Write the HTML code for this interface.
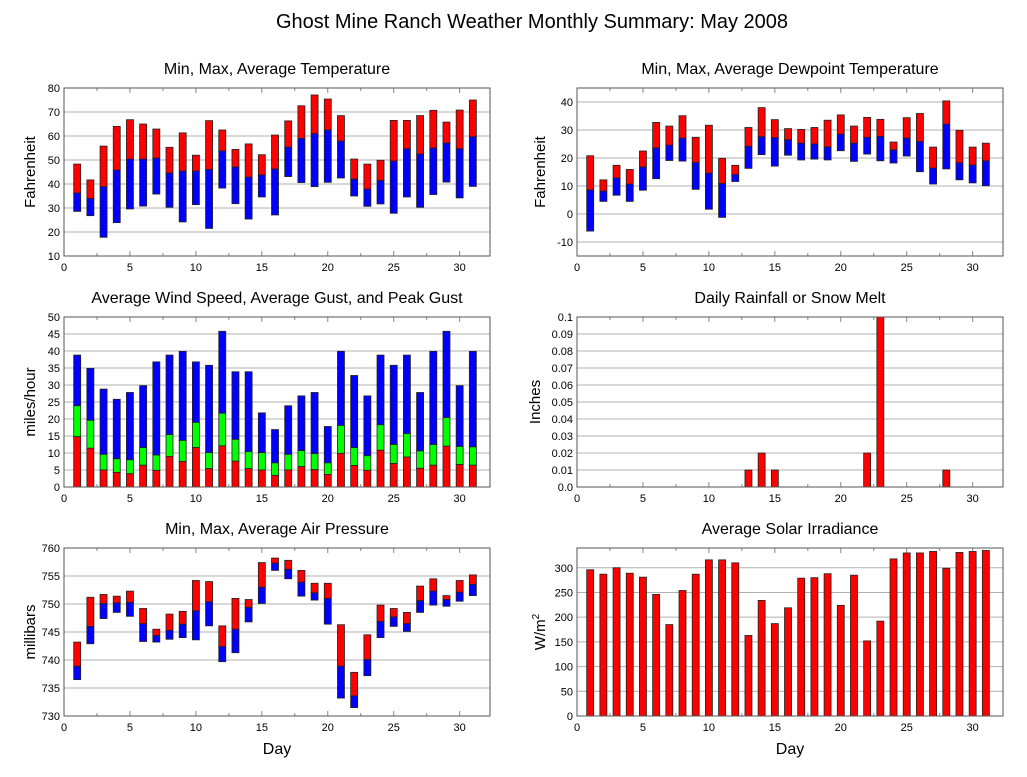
<!DOCTYPE html>
<html><head><meta charset="utf-8">
<style>
body{margin:0;background:#fff;font-family:"Liberation Sans",sans-serif;}
svg text{font-family:"Liberation Sans",sans-serif;fill:#000;}
</style></head>
<body>
<svg id="c" width="1027" height="772" xmlns="http://www.w3.org/2000/svg">
<text x="532" y="28" font-size="20" text-anchor="middle">Ghost Mine Ranch Weather Monthly Summary: May 2008</text>
</svg>
<script>
const days = [1,2,3,4,5,6,7,8,9,10,11,12,13,14,15,16,17,18,19,20,21,22,23,24,25,26,27,28,29,30,31];
const tempMax = [48.3,41.7,55.8,64,66.8,65,62.9,55.3,61.3,52,66.4,62.5,54.4,56.7,52.2,60.4,66.3,72.6,77.1,75.4,68.5,50.4,48.3,49.9,66.5,66.5,68.5,70.7,65.8,70.8,75];
const tempAvg = [36.3,34,38.9,45.8,50.4,50.4,50.8,44.6,45.4,45.4,46.1,53.8,47.1,42.9,43.8,46.3,55.4,59,61,62.5,57.9,42.1,37.9,41.5,49.6,54.7,52.5,55,57.1,54.7,59.7];
const tempMin = [28.6,26.8,17.8,23.9,29.6,30.8,35.8,30.3,24.2,31.4,21.5,38.3,31.8,25.4,34.6,27.1,43.1,40.6,38.9,40.7,42.5,35,30.7,31.7,27.8,34.6,30.3,35.6,40.8,34.2,39];
const dewMax = [20.8,12.2,17.4,15.9,22.5,32.7,31.4,35.1,27.4,31.7,19.9,17.4,30.9,38,33.7,30.5,30.2,30.9,33.5,35.4,31.4,34.5,33.8,25.7,34.4,35.9,23.9,40.4,29.9,23.9,25.3];
const dewAvg = [8.6,8.2,12.9,10.7,16.8,23.6,24.6,27.1,18.4,14.6,10.9,14.1,24.2,27.6,27.3,26.5,25.3,25,24,28.5,25.3,27.4,27.7,22.9,27.1,25.9,16.4,32.1,18.3,17.5,19];
const dewMin = [-6.1,4.5,6.7,4.5,8.5,12.6,19.1,18.9,8.8,1.7,-1.2,11.6,16.3,21.2,17.1,21,19.3,19.6,19.3,22.6,18.8,21.4,19,18.2,20.7,15.1,10.7,16.1,12.2,11.1,10.1];
const windPeak = [38.8,34.9,28.8,25.8,27.8,29.8,36.8,38.8,39.9,36.8,35.8,45.8,33.9,33.9,21.8,16.9,23.9,26.8,27.8,17.8,39.9,32.8,26.8,38.8,35.8,38.8,27.8,39.9,45.8,29.8,39.9];
const windGust = [23.9,19.6,9.6,8.3,8,11.6,9.4,15.4,13.7,19,10.1,21.7,14,10.4,10.1,7.1,9.6,10.7,9.8,7.1,18.1,11.6,9.2,18.3,12.5,15.7,10.6,12.5,20.4,11.9,11.8];
const windAvg = [14.8,11.4,5,4.3,3.9,6.4,4.9,9,7.5,11.6,5.4,12.1,7.6,5.4,5,3.4,5,6,5.1,3.7,9.9,6.3,4.9,10.8,6.9,8.8,5.5,6.4,12,6.6,6.4];
const rain = [0,0,0,0,0,0,0,0,0,0,0,0,0.01,0.02,0.01,0,0,0,0,0,0,0.02,0.1,0,0,0,0,0.01,0,0,0];
const presMax = [743.2,751.2,751.7,751.4,752.3,749.2,745.5,748.2,748.7,754.2,754,746.1,751,750.8,757.4,758.2,757.8,756,753.7,753.7,746.3,737.8,744.5,749.8,749.2,748.5,753.2,754.5,751.5,754.2,755.2];
const presAvg = [738.9,746,750.1,750.2,750.3,746.5,744.4,745.3,746.4,748.8,750.4,742.4,745.5,749.4,753,757.3,756.2,753.9,752,751,738.9,733.6,740.1,746.9,747.7,746.5,750.6,752.3,750.8,752.1,753.5];
const presMin = [736.5,742.9,747.4,748.5,747.8,743.3,743.2,743.7,744,743.6,746.1,739.7,741.3,746.8,750.1,756,754.5,751.4,750.7,746.4,733.2,731.5,737.2,744,746,745.1,748.5,749.8,749.6,750.5,751.5];
const solar = [296,287,300,289,281,246,185,254,287,316,316,310,163,234,187,219,279,280,288,224,285,152,192,318,330,330,333,299,331,333,335];
const xTicks = [0,5,10,15,20,25,30];
const tempTicks = [10,20,30,40,50,60,70,80];
const dewTicks = [-10,0,10,20,30,40];
const windTicks = [0,5,10,15,20,25,30,35,40,45,50];
const rainTicks = [0,0.01,0.02,0.03,0.04,0.05,0.06,0.07,0.08,0.09,0.1];
const rainTickLabels = ["0.0","0.01","0.02","0.03","0.04","0.05","0.06","0.07","0.08","0.09","0.1"];
const presTicks = [730,735,740,745,750,755,760];
const solarTicks = [0,50,100,150,200,250,300];

const svg = document.getElementById('c');
const NS = 'http://www.w3.org/2000/svg';
function mk(tag, attrs, parent){
  const e = document.createElementNS(NS, tag);
  for (const k in attrs) e.setAttribute(k, attrs[k]);
  (parent||svg).appendChild(e);
  return e;
}
const XMAX = 32.3;
function panel(o){
  const g = mk('g', {});
  
  
  const W = o.x1 - o.x0, H = o.y1 - o.y0;
  const xs = d => o.x0 + d / XMAX * W;
  const ys = v => o.y1 - (v - o.ymin) / (o.ymax - o.ymin) * H;
  // grid
  o.yticks.forEach((t, i) => {
    const y = ys(t);
    if (y > o.y0 + 0.5 && y < o.y1 - 0.5) {
      const l = mk('line', {x1:o.x0, x2:o.x1, y1:y, y2:y, stroke:'#b0b0b0', 'stroke-width':1}, g);
      
      
    }
    const tx = mk('text', {x:o.x0-4, y:y+4, 'font-size':11, 'text-anchor':'end'}, g);
    
    
    tx.textContent = o.ylabels ? o.ylabels[i] : String(t);
  });
  // x ticks
  for (let d = 2.5; d < XMAX; d += 2.5) {
    const x = xs(d);
    const len = (d % 5 === 0) ? 5 : 3;
    mk('line', {x1:x, x2:x, y1:o.y0, y2:o.y0+len, stroke:'#888'}, g);
    mk('line', {x1:x, x2:x, y1:o.y1, y2:o.y1-len, stroke:'#888'}, g);
  }
  xTicks.forEach(t => {
    const tx = mk('text', {x:xs(t), y:o.y1+15, 'font-size':11, 'text-anchor':'middle'}, g);
    
    
    tx.textContent = String(t);
  });
  // bars
  const bw = 7;
  days.forEach((d, i) => {
    o.series.forEach(s => {
      const lo = s.lo ? s.lo[i] : o.ymin;
      const hi = s.hi[i];
      if (hi - lo <= 0) return;
      const yt = ys(hi), yb = ys(lo);
      const r = mk('rect', {x:xs(d)-bw/2, y:yt, width:bw, height:Math.max(yb-yt,0.5), fill:s.color, stroke:'#222', 'stroke-width':0.8}, g);
      
      
    });
  });
  // frame
  mk('rect', {x:o.x0, y:o.y0, width:W, height:H, fill:'none', stroke:'#555', 'stroke-width':1}, g);
  const tt = mk('text', {x:(o.x0+o.x1)/2, y:o.y0-14, 'font-size':16, 'text-anchor':'middle'}, g);
  
  
  tt.textContent = o.title;
  const yl = mk('text', {x:0, y:0, 'font-size':15, 'text-anchor':'middle', transform:'translate(' + o.ylx + ',' + ((o.y0+o.y1)/2) + ') rotate(-90)'}, g);
  
  
  if (o.ytitleHTML) {
    yl.textContent = 'W/m';
    const sup = mk('tspan', {dy:-6, 'font-size':10}, yl);
    sup.textContent = '2';
  } else yl.textContent = o.ytitle;
  if (o.xtitle) {
    const xl = mk('text', {x:(o.x0+o.x1)/2, y:o.y1+38, 'font-size':16, 'text-anchor':'middle'}, g);
    
    
    xl.textContent = 'Day';
  }
}
const L0 = 64, L1 = 490, R0 = 577, R1 = 1003;
panel({name:'temperature-panel', title:'Min, Max, Average Temperature', ytitle:'Fahrenheit', ylx:35, x0:L0, x1:L1, y0:88, y1:256, ymin:10, ymax:80, yticks:tempTicks,
  series:[{name:'temp-min-avg', lo:tempMin, hi:tempAvg, color:'#0000ff'},{name:'temp-avg-max', lo:tempAvg, hi:tempMax, color:'#ff0000'}]});
panel({name:'dewpoint-panel', title:'Min, Max, Average Dewpoint Temperature', ytitle:'Fahrenheit', ylx:545, x0:R0, x1:R1, y0:88, y1:256, ymin:-15, ymax:45, yticks:dewTicks,
  series:[{name:'dew-min-avg', lo:dewMin, hi:dewAvg, color:'#0000ff'},{name:'dew-avg-max', lo:dewAvg, hi:dewMax, color:'#ff0000'}]});
panel({name:'wind-panel', title:'Average Wind Speed, Average Gust, and Peak Gust', ytitle:'miles/hour', ylx:35, x0:L0, x1:L1, y0:317, y1:487, ymin:0, ymax:50, yticks:windTicks,
  series:[{name:'wind-peak', lo:windGust, hi:windPeak, color:'#0000ff'},{name:'wind-gust', lo:windAvg, hi:windGust, color:'#00ff00'},{name:'wind-avg', hi:windAvg, color:'#ff0000'}]});
panel({name:'rain-panel', title:'Daily Rainfall or Snow Melt', ytitle:'Inches', ylx:540, x0:R0, x1:R1, y0:317, y1:487, ymin:0, ymax:0.1, yticks:rainTicks, ylabels:rainTickLabels,
  series:[{name:'rain', hi:rain, color:'#ff0000'}]});
panel({name:'pressure-panel', title:'Min, Max, Average Air Pressure', ytitle:'millibars', ylx:35, x0:L0, x1:L1, y0:548, y1:716, ymin:730, ymax:760, yticks:presTicks, xtitle:true,
  series:[{name:'pres-min-avg', lo:presMin, hi:presAvg, color:'#0000ff'},{name:'pres-avg-max', lo:presAvg, hi:presMax, color:'#ff0000'}]});
panel({name:'solar-panel', title:'Average Solar Irradiance', ytitleHTML:true, ylx:545, x0:R0, x1:R1, y0:548, y1:716, ymin:0, ymax:340, yticks:solarTicks, xtitle:true,
  series:[{name:'solar', hi:solar, color:'#ff0000'}]});
</script>
</body></html>
